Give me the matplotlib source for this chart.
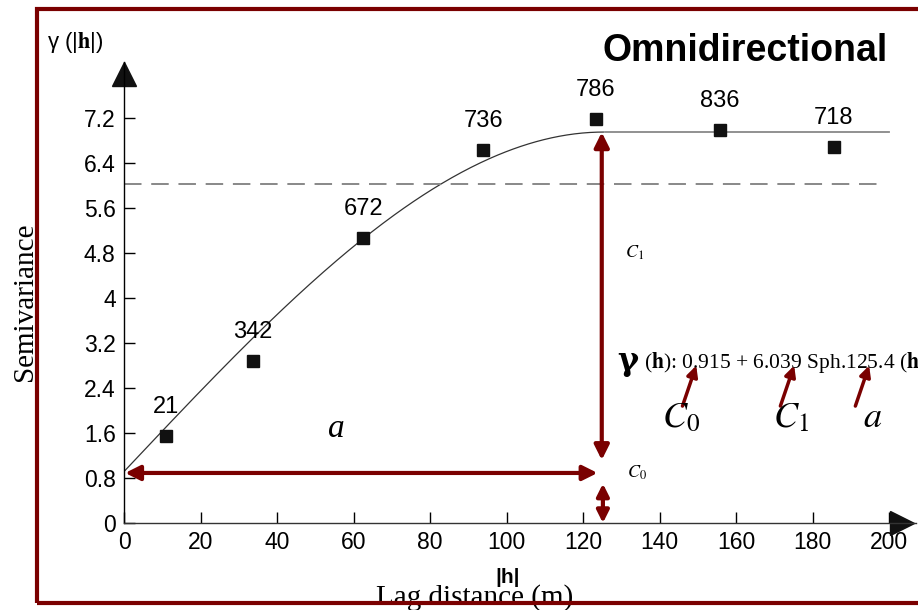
import numpy as np
import matplotlib.pyplot as plt
from matplotlib.patches import Rectangle

plt.rcParams['mathtext.fontset'] = 'stix'

# experimental semivariogram (lag, semivariance, number of pairs)
lags = [11.0, 33.7, 62.5, 93.9, 123.4, 155.8, 185.6]
gammas = [1.55, 2.88, 5.07, 6.63, 7.18, 6.99, 6.68]
pairs = ['21', '342', '672', '736', '786', '836', '718']

# fitted spherical model
nugget = 0.915
partial_sill = 6.039
model_range = 125.4
sample_var = 6.03

x_ticks = [0, 20, 40, 60, 80, 100, 120, 140, 160, 180, 200]
y_ticks = [0, 0.8, 1.6, 2.4, 3.2, 4, 4.8, 5.6, 6.4, 7.2]
y_ticklabels = ['0', '0.8', '1.6', '2.4', '3.2', '4', '4.8', '5.6', '6.4', '7.2']

red = '#7a0000'
serif = 'Liberation Serif'
sans = 'Liberation Sans'

fig = plt.figure(figsize=(9.18, 6.10), dpi=100)
ax = fig.add_axes([124 / 918, 87 / 610, 791.8 / 918, 461 / 610])
ax.set_xlim(0, 207)
ax.set_ylim(0, 8.2)

for s in ['top', 'right']:
    ax.spines[s].set_visible(False)
ax.spines['left'].set_linewidth(1)
ax.spines['bottom'].set_linewidth(1)
ax.spines['bottom'].set_color('#333333')

ax.set_xticks(x_ticks)
ax.set_xticklabels([str(v) for v in x_ticks], fontfamily=sans, fontsize=16.5)
ax.set_yticks(y_ticks)
ax.set_yticklabels(y_ticklabels, fontfamily=sans, fontsize=16.5)
ax.tick_params(direction='in', length=8, width=1, pad=6)

# axis arrow heads
ax.plot([0], [7.98], marker='^', color='#111111', markersize=17, clip_on=False)
ax.plot([203.5], [0], marker='>', color='#111111', markersize=17, clip_on=False)

# model curve
h = np.linspace(0, 200, 400)
hr = np.minimum(h / model_range, 1)
model = nugget + partial_sill * (1.5 * hr - 0.5 * hr ** 3)
ax.plot(h[h <= model_range], model[h <= model_range], color='#333333', lw=0.9)
ax.plot(h[h >= model_range], model[h >= model_range], color='#888888', lw=1.3)

ax.plot([0, 199], [sample_var, sample_var], color='#888888', lw=1.4,
        dashes=(9, 5))

ax.plot(lags, gammas, 's', color='#111111', markersize=8, zorder=5)
for x, y, n in zip(lags, gammas, pairs):
    ax.annotate(n, (x, y), xytext=(0, 13), textcoords='offset points',
                ha='center', va='bottom', fontsize=17, fontfamily=sans)

# range / sill arrows
arr = dict(arrowstyle='<|-|>', color=red, lw=3, mutation_scale=22,
           shrinkA=0, shrinkB=0)
ax.annotate('', xy=(0.3, 0.89), xytext=(123.8, 0.89), arrowprops=arr)
ax.annotate('', xy=(124.9, 6.95), xytext=(124.9, 1.12), arrowprops=arr)
ax.annotate('', xy=(125.2, 0.0), xytext=(125.2, 0.7),
            arrowprops=dict(arr, mutation_scale=18), annotation_clip=False)

ax.text(55.5, 1.68, 'a', fontfamily=serif, style='italic', fontsize=24,
        ha='center', va='center')
ax.text(133.5, 4.8, r'$C_1$', fontsize=13, ha='center', va='center')
ax.text(134.0, 0.9, r'$C_0$', fontsize=13, ha='center', va='center')

# model equation
ax.text(129.0, 2.88, 'γ', fontfamily='DejaVu Serif', fontweight='bold',
        fontsize=23, ha='left', va='center', clip_on=False)
ax.text(135.9, 2.86, r'($\mathbf{h}$): 0.915 + 6.039 Sph.125.4 ($\mathbf{h}$)',
        fontfamily=serif, fontsize=15.5, ha='left', va='center', clip_on=False)
for x0 in [146.0, 171.6, 191.2]:
    ax.annotate('', xy=(x0 + 3.6, 2.8), xytext=(x0, 2.08),
                arrowprops=dict(arrowstyle='-|>', color=red, lw=2.5,
                                mutation_scale=16, shrinkA=0, shrinkB=0))
ax.text(145.6, 1.88, r'$C_\mathit{0}$', fontsize=26, ha='center', va='center')
ax.text(174.3, 1.88, r'$C_\mathit{1}$', fontsize=26, ha='center', va='center')
ax.text(195.8, 1.88, r'$a$', fontsize=26, ha='center', va='center')

# labels
fig.text(0.082, 0.931, r'γ (|$\mathbf{h}$|)', fontfamily=sans, fontsize=16,
         ha='center', va='center')
fig.text(0.027, 0.505, 'Semivariance', fontfamily=serif, fontsize=21,
         rotation=90, ha='center', va='center')
fig.text(0.553, 0.054, '|h|', fontfamily=sans, fontweight='bold', fontsize=15,
         ha='center', va='center')
fig.text(0.517, 0.021, 'Lag distance (m)', fontfamily=serif, fontsize=21,
         ha='center', va='center')
fig.text(0.812, 0.917, 'Omnidirectional', fontfamily=sans, fontweight='bold',
         fontsize=27, ha='center', va='center')

# frame
fig.patches.append(Rectangle((0.040, 0.0115), 1.0, 0.9735, transform=fig.transFigure,
                             fill=False, edgecolor=red, lw=3, zorder=10))

fig.savefig('out.png', dpi=100)
